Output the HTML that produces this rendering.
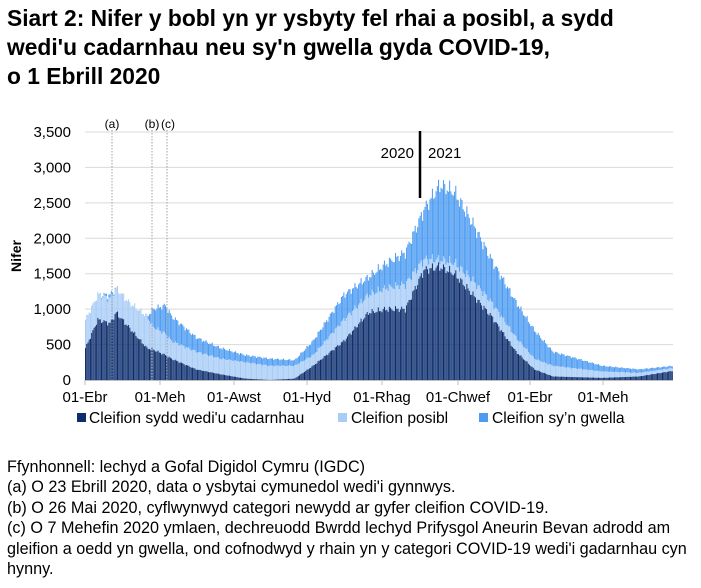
<!DOCTYPE html><html><head><style>
body{margin:0;width:701px;height:588px;background:#fff;font-family:"Liberation Sans",sans-serif;overflow:hidden;position:relative}
.t{position:absolute;left:7px;top:4px;font-size:22.8px;font-weight:bold;line-height:29px;color:#000}
.f{position:absolute;left:7px;top:457px;font-size:16.2px;line-height:20.4px;color:#000}
</style></head><body>
<div class="t">Siart 2: Nifer y bobl yn yr ysbyty fel rhai a posibl, a sydd<br>wedi'u cadarnhau neu sy'n gwella gyda COVID-19,<br>o 1 Ebrill 2020</div>
<svg id="s" width="701" height="588" style="position:absolute;left:0;top:0" font-family="Liberation Sans, sans-serif"></svg>
<div class="f">Ffynhonnell: lechyd a Gofal Digidol Cymru (IGDC)<br>(a) O 23 Ebrill 2020, data o ysbytai cymunedol wedi'i gynnwys.<br>(b) O 26 Mai 2020, cyflwynwyd categori newydd ar gyfer cleifion COVID-19.<br>(c) O 7 Mehefin 2020 ymlaen, dechreuodd Bwrdd lechyd Prifysgol Aneurin Bevan adrodd am<br>gleifion a oedd yn gwella, ond cofnodwyd y rhain yn y categori COVID-19 wedi'i gadarnhau cyn<br>hynny.</div>
<script>
var s=document.getElementById('s'),h='';
var X0=85,X1=673,Y0=380,K=248/3500;
for(var i=0;i<=7;i++){var y=Y0-i*500*K;h+='<line x1="'+X0+'" x2="'+X1+'" y1="'+y+'" y2="'+y+'" stroke="#d9d9d9"/>';
h+='<text x="71" y="'+(y+5)+'" font-size="15" text-anchor="end">'+(i*500).toLocaleString('en')+'</text>';}
h+='<text transform="translate(21,256) rotate(-90)" font-size="14" font-weight="bold" text-anchor="middle">Nifer</text>';
var P=[[0,450,850,850],[10,850,1200,1200],[20,800,1150,1200],[25,950,1300,1300],[35,750,1100,1100],[50,450,900,900],[55,430,750,1000],[65,350,650,1050],[70,300,550,900],[90,150,400,600],[110,80,300,450],[130,20,250,350],[150,0,200,300],[170,20,200,280],[185,200,350,550],[210,550,850,1200],[230,950,1200,1450],[245,1000,1300,1650],[260,1000,1350,1800],[275,1550,1700,2400],[288,1600,1700,2750],[300,1500,1650,2650],[315,1200,1400,2200],[330,900,1100,1700],[350,400,600,1100],[365,150,300,700],[380,50,200,400],[420,30,120,200],[450,50,100,150],[478,130,170,200]];
function v(d,k){for(var j=1;j<P.length;j++)if(d<=P[j][0]){var a=P[j-1],b=P[j],t=(d-a[0])/(b[0]-a[0]);return a[k]+(b[k]-a[k])*t;}return P[P.length-1][k];}
var dx=(X1-X0)/478;
for(var d=0;d<478;d++){var x=X0+d*dx,n=1+0.03*Math.sin(d*1.3)+0.02*Math.sin(d*2.7);
var c=v(d,1)*n,p=v(d,2)*n,r=Math.max(v(d,3)*n,p);
h+='<rect x="'+x+'" width="'+(dx*0.85)+'" y="'+(Y0-r*K)+'" height="'+((r-p)*K)+'" fill="#4d9cf2"/>';
h+='<rect x="'+x+'" width="'+(dx*0.85)+'" y="'+(Y0-p*K)+'" height="'+((p-c)*K)+'" fill="#a9cdf7"/>';
h+='<rect x="'+x+'" width="'+(dx*0.85)+'" y="'+(Y0-c*K)+'" height="'+(c*K)+'" fill="#0d2e6e"/>';}
h+='<line x1="'+X0+'" x2="'+X1+'" y1="380.5" y2="380.5" stroke="#bfbfbf"/>';
[112,152,167].forEach(function(x){h+='<line x1="'+x+'" x2="'+x+'" y1="130" y2="380" stroke="#a0a0a0" stroke-dasharray="1.5,1.5"/>'});
h+='<text x="112" y="128" font-size="12" text-anchor="middle">(a)</text><text x="152" y="128" font-size="12" text-anchor="middle">(b)</text><text x="168" y="128" font-size="12" text-anchor="middle">(c)</text>';
h+='<line x1="420" x2="420" y1="131" y2="198" stroke="#000" stroke-width="2.5"/>';
h+='<text x="414" y="158" font-size="15" text-anchor="end">2020</text><text x="428" y="158" font-size="15">2021</text>';
[[85,'01-Ebr'],[160,'01-Meh'],[234,'01-Awst'],[307,'01-Hyd'],[382,'01-Rhag'],[458,'01-Chwef'],[530,'01-Ebr'],[603,'01-Meh']].forEach(function(a){h+='<text x="'+a[0]+'" y="402" font-size="15" text-anchor="middle">'+a[1]+'</text><line x1="'+a[0]+'" x2="'+a[0]+'" y1="380" y2="385" stroke="#bfbfbf"/>'});
h+='<rect x="77" y="413" width="9" height="9" fill="#0d2e6e"/><text x="89" y="423" font-size="15.6">Cleifion sydd wedi\'u cadarnhau</text>';
h+='<rect x="338" y="413" width="9" height="9" fill="#a9cdf7"/><text x="351" y="423" font-size="15.6">Cleifion posibl</text>';
h+='<rect x="479" y="413" width="9" height="9" fill="#4d9cf2"/><text x="492" y="423" font-size="15.6">Cleifion sy’n gwella</text>';
s.innerHTML=h;
</script></body></html>
